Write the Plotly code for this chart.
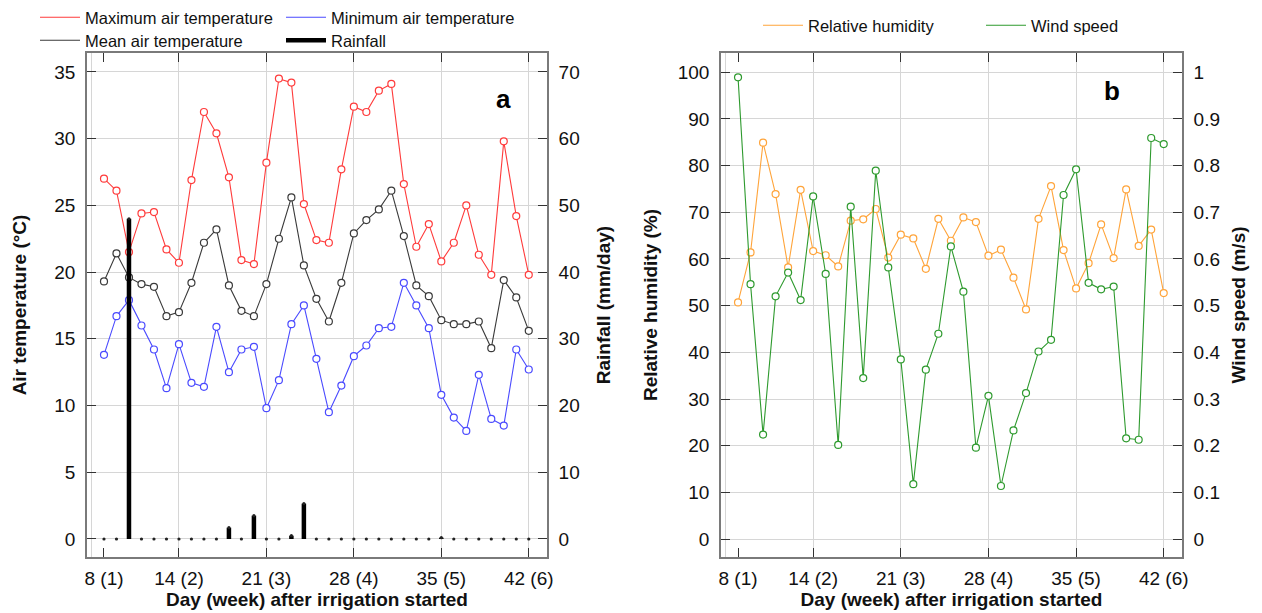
import plotly.graph_objects as go

# Daily weather during the irrigation trial (days 8-42)
days = list(range(8, 43))

tmax = [27.0, 26.1, 21.5, 24.4, 24.5, 21.7, 20.7, 26.9, 32.0, 30.4, 27.1, 20.9,
        20.6, 28.2, 34.5, 34.2, 25.1, 22.4, 22.2, 27.7, 32.4, 32.0, 33.6, 34.1,
        26.6, 21.9, 23.6, 20.8, 22.2, 25.0, 21.3, 19.8, 29.8, 24.2, 19.8]
tmean = [19.3, 21.4, 19.6, 19.1, 18.9, 16.7, 17.0, 19.2, 22.2, 23.2, 19.0, 17.1,
         16.7, 19.1, 22.5, 25.6, 20.5, 18.0, 16.3, 19.2, 22.9, 23.9, 24.7, 26.1,
         22.7, 19.0, 18.2, 16.4, 16.1, 16.1, 16.3, 14.3, 19.4, 18.1, 15.6]
tmin = [13.8, 16.7, 17.9, 16.0, 14.2, 11.3, 14.6, 11.7, 11.4, 15.9, 12.5, 14.2,
        14.4, 9.8, 11.9, 16.1, 17.5, 13.5, 9.5, 11.5, 13.7, 14.5, 15.8, 15.9,
        19.2, 17.5, 15.8, 10.8, 9.1, 8.1, 12.3, 9.0, 8.5, 14.2, 12.7]
rainfall = [0, 0, 48.0, 0, 0, 0, 0, 0, 0, 0, 1.7, 0,
            3.5, 0, 0, 0.5, 5.3, 0, 0, 0, 0, 0, 0, 0,
            0, 0, 0, 0.2, 0, 0, 0, 0, 0, 0, 0]
humidity = [50.7, 61.4, 84.9, 73.9, 58.2, 74.8, 61.7, 60.8, 58.4, 68.2, 68.5, 70.7,
            60.3, 65.2, 64.4, 57.9, 68.6, 63.9, 68.9, 67.9, 60.7, 62.0, 56.0, 49.2,
            68.6, 75.6, 61.9, 53.7, 59.1, 67.4, 60.2, 74.9, 62.8, 66.3, 52.7]
wind = [0.989, 0.546, 0.224, 0.520, 0.571, 0.512, 0.734, 0.568, 0.202, 0.712, 0.345, 0.789,
        0.582, 0.385, 0.118, 0.363, 0.440, 0.627, 0.530, 0.196, 0.307, 0.114, 0.233, 0.313,
        0.402, 0.427, 0.737, 0.792, 0.549, 0.535, 0.541, 0.216, 0.213, 0.859, 0.846]

tick_days = [8, 14, 21, 28, 35, 42]
tick_labels = ["8 (1)", "14 (2)", "21 (3)", "28 (4)", "35 (5)", "42 (6)"]
week_grid = [7, 14, 21, 28, 35, 42]

FONT = "Liberation Sans, Arial, sans-serif"
SPINE = "#7a7a7a"
GRID = "#d6d6d6"
TICKC = "#333333"
W, H = 1262, 613

fig = go.Figure()


def add_series(x, y, color, name, xa, ya, legend):
    # connecting line (shown in legend) + open circle markers
    fig.add_trace(go.Scatter(
        x=x, y=y, name=name, mode="lines", xaxis=xa, yaxis=ya, legend=legend,
        line=dict(color=color, width=1.1)))
    fig.add_trace(go.Scatter(
        x=x, y=y, name=name, mode="markers", xaxis=xa, yaxis=ya, showlegend=False,
        marker=dict(symbol="circle", size=7, color="white",
                    line=dict(color=color, width=1.2))))


# Panel a: air temperature
add_series(days, tmax, "#ff3b3b", "Maximum air temperature", "x", "y", "legend")
add_series(days, tmin, "#4a4aff", "Minimum air temperature", "x", "y", "legend")
add_series(days, tmean, "#3a3a3a", "Mean air temperature", "x", "y", "legend2")

# Rainfall drawn as vertical sticks on the secondary axis
rx, ry = [], []
for d, r in zip(days, rainfall):
    rx += [d, d, None]
    ry += [0, r, None]
fig.add_trace(go.Scatter(x=rx, y=ry, name="Rainfall", mode="lines",
                         xaxis="x", yaxis="y2", legend="legend2",
                         line=dict(color="black", width=4.5)))
fig.add_trace(go.Scatter(x=days, y=rainfall, mode="markers", showlegend=False,
                         xaxis="x", yaxis="y2", hoverinfo="skip",
                         marker=dict(symbol="circle", size=3.2, color="#222")))

# Panel b: humidity and wind speed
add_series(days, humidity, "#ffa43a", "Relative humidity", "x2", "y3", "legend3")
add_series(days, wind, "#2e9a2e", "Wind speed", "x2", "y4", "legend3")

y_dom = [1 - 557 / H, 1 - 53 / H]
title_font = dict(family=FONT, size=19, color="#111")
xa_common = dict(
    range=[6.64, 43.46], tickmode="array", tickvals=tick_days, ticktext=tick_labels,
    ticks="inside", ticklen=9, tickwidth=1.3, tickcolor=TICKC,
    showline=True, linecolor=SPINE, linewidth=1.6, mirror="ticks",
    showgrid=False, zeroline=False, automargin=False, ticklabelstandoff=3,
    minor=dict(tickmode="array", tickvals=week_grid, showgrid=True,
               gridcolor=GRID, gridwidth=1, ticklen=0),
    tickfont=dict(family=FONT, size=19, color="#111"),
    title=dict(text="<b>Day (week) after irrigation started</b>", standoff=5,
               font=title_font),
)
ya_common = dict(
    ticks="inside", ticklen=9, tickwidth=1.3, tickcolor=TICKC,
    showline=True, linecolor=SPINE, linewidth=1.6, automargin=False,
    zeroline=False, tickfont=dict(family=FONT, size=19, color="#111"),
    ticklabelstandoff=6,
)
legend_common = dict(orientation="h", xanchor="left", yanchor="top",
                     entrywidthmode="pixels", bgcolor="rgba(0,0,0,0)", itemwidth=40,
                     font=dict(family=FONT, size=16.5, color="#111"), tracegroupgap=0)

fig.update_layout(
    width=W, height=H,
    margin=dict(l=0, r=0, t=0, b=0, autoexpand=False),
    paper_bgcolor="white", plot_bgcolor="white",
    font=dict(family=FONT, color="#111"),
    xaxis=dict(domain=[87 / W, 547 / W], anchor="y", **xa_common),
    xaxis2=dict(domain=[721 / W, 1182 / W], anchor="y3", **xa_common),
    yaxis=dict(domain=y_dom, anchor="x", range=[-1.35, 36.42], dtick=5, tick0=0,
               showgrid=True, gridcolor=GRID, gridwidth=1,
               title=dict(text="<b>Air temperature (°C)</b>", standoff=23, font=title_font),
               **ya_common),
    yaxis2=dict(anchor="x", overlaying="y", side="right", range=[-2.7, 72.84],
                dtick=10, tick0=0, showgrid=False,
                title=dict(text="<b>Rainfall (mm/day)</b>", standoff=18, font=title_font),
                **ya_common),
    yaxis3=dict(domain=y_dom, anchor="x2", range=[-3.8, 104.1], dtick=10, tick0=0,
                showgrid=True, gridcolor=GRID, gridwidth=1,
                title=dict(text="<b>Relative humidity (%)</b>", standoff=15, font=title_font),
                **ya_common),
    yaxis4=dict(anchor="x2", overlaying="y3", side="right", range=[-0.038, 1.041],
                dtick=0.1, tick0=0, showgrid=False,
                title=dict(text="<b>Wind speed (m/s)</b>", standoff=12, font=title_font),
                **ya_common),
    legend=dict(x=35 / W, y=1.0, entrywidth=191, **legend_common),
    legend2=dict(x=35 / W, y=1 - 23 / H, entrywidth=191, **legend_common),
    legend3=dict(x=758 / W, y=1 - 8 / H, entrywidth=168, **legend_common),
    annotations=[
        dict(text="<b>a</b>", x=40.0, y=33.0, xref="x", yref="y", showarrow=False,
             font=dict(family=FONT, size=26, color="black")),
        dict(text="<b>b</b>", x=37.9, y=96.0, xref="x2", yref="y3", showarrow=False,
             font=dict(family=FONT, size=26, color="black")),
    ],
    showlegend=True,
)

fig.write_html("out.html")
